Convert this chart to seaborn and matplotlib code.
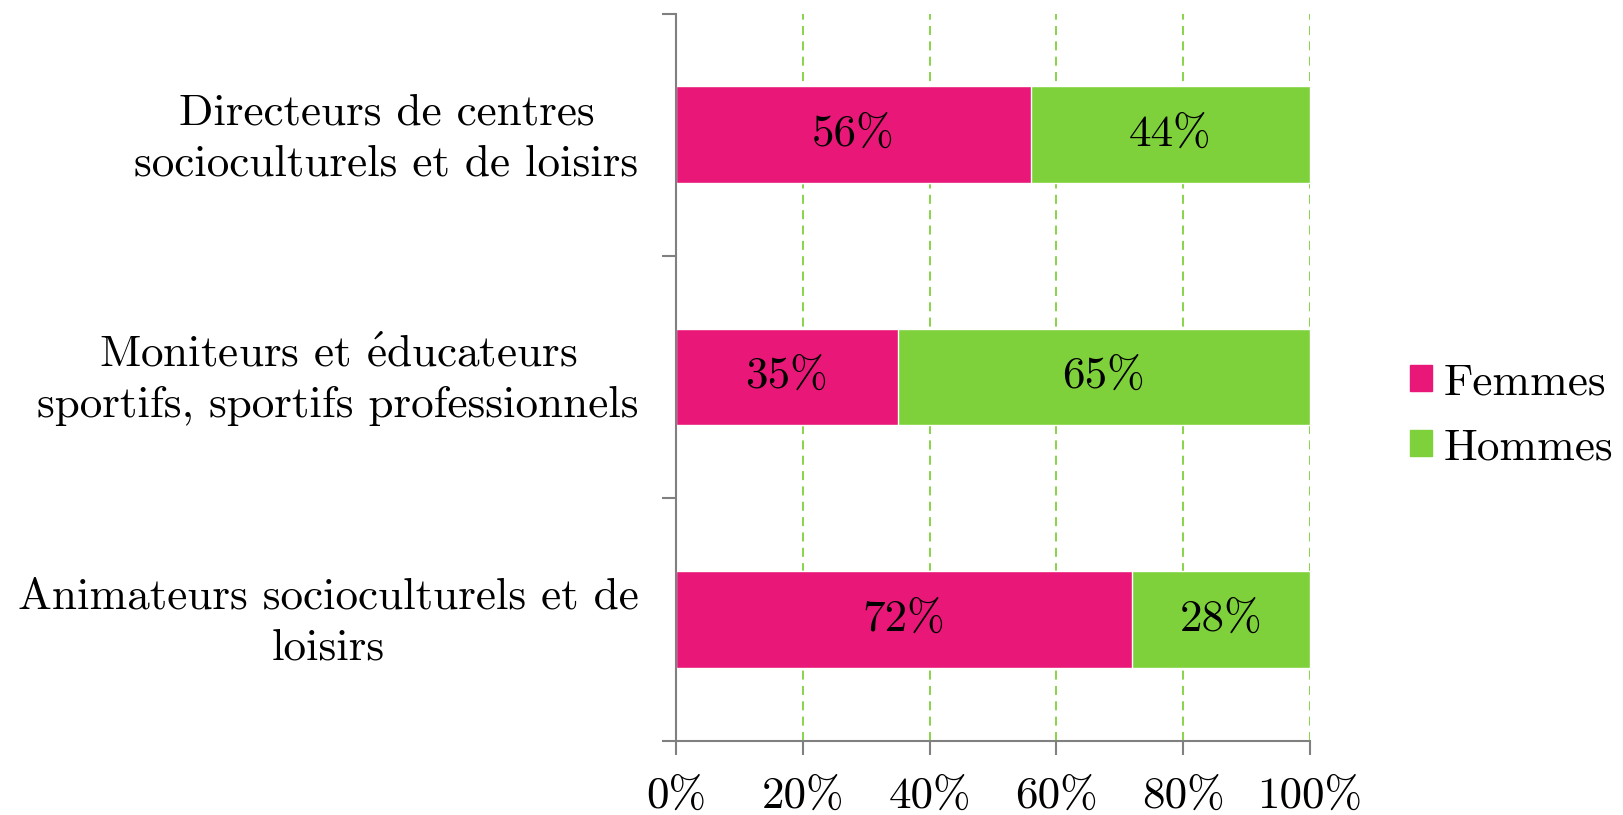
import matplotlib
matplotlib.use("Agg")
import matplotlib.pyplot as plt
import matplotlib.transforms as mtransforms
import seaborn as sns
import pandas as pd
from matplotlib.patches import Patch

# data
categories = [
    "Directeurs de centres\nsocioculturels et de loisirs",
    "Moniteurs et $\\mathrm{\\acute{e}}$ducateurs\nsportifs, sportifs professionnels",
    "Animateurs socioculturels et de\nloisirs",
]
femmes = [56, 35, 72]
hommes = [44, 65, 28]
x_ticks = [0, 20, 40, 60, 80, 100]
x_labels = ["0%", "20%", "40%", "60%", "80%", "100%"]

pink = "#E91778"
green = "#7ED13A"
gray = "#808080"

sns.set_style("white")
plt.rcParams["font.family"] = ["cmr10", "DejaVu Serif"]
plt.rcParams["mathtext.fontset"] = "cm"
plt.rcParams["axes.unicode_minus"] = False
plt.rcParams["text.color"] = "black"
plt.rcParams["xtick.labelcolor"] = "black"
plt.rcParams["ytick.labelcolor"] = "black"

df = pd.DataFrame({"cat": categories, "Femmes": femmes, "Hommes": hommes})
df["total"] = df["Femmes"] + df["Hommes"]

fig = plt.figure(figsize=(16.24, 8.15), dpi=100)
ax = fig.add_axes([0.4163, 0.0914, 0.8066 - 0.4163, 0.9834 - 0.0914])

# stacked: total (green) first, then femmes (pink) on top
sns.barplot(data=df, y="cat", x="total", color=green, orient="h",
            width=0.4, saturation=1, ax=ax)
sns.barplot(data=df, y="cat", x="Femmes", color=pink, orient="h",
            width=0.4, saturation=1, ax=ax)

fs = 32.5
for i, (f, h) in enumerate(zip(femmes, hommes)):
    ax.text(f / 2, i, f"{f}%", ha="center", va="center", fontsize=fs, color="black")
    ax.text(f + h / 2, i, f"{h}%", ha="center", va="center", fontsize=fs, color="black")

ax.set_xlim(0, 100)
ax.set_ylim(2.5, -0.5)
ax.set_xticks(x_ticks)
ax.set_xticklabels(x_labels, fontsize=fs)
ax.set_xlabel("")
ax.set_ylabel("")

# category labels centered on bars, tick marks on band edges
ax.set_yticks(range(len(categories)))
ax.set_yticklabels(categories, fontsize=fs, multialignment="center", linespacing=1.35)
ax.set_yticks([-0.5, 0.5, 1.5, 2.5], minor=True)
ax.tick_params(axis="y", which="major", length=0, pad=27)
ax.tick_params(axis="y", which="minor", length=10, width=1.5, color=gray, left=True)
ax.tick_params(axis="x", length=10, width=1.5, color=gray, bottom=True, pad=16)

# nudge category labels up a little
shift = mtransforms.ScaledTranslation(0, 0.06, fig.dpi_scale_trans)
for lbl in ax.get_yticklabels():
    lbl.set_transform(lbl.get_transform() + shift)

ax.grid(axis="x", color=green, linestyle=(0, (5, 3.5)), linewidth=1.3)
ax.grid(axis="y", visible=False)
ax.set_axisbelow(True)

sns.despine(ax=ax, top=True, right=True)
for s in ["left", "bottom"]:
    ax.spines[s].set_color(gray)
    ax.spines[s].set_linewidth(1.5)

handles = [Patch(color=pink, label="Femmes"), Patch(color=green, label="Hommes")]
fig.legend(handles=handles, loc="center left", bbox_to_anchor=(0.843, 0.49),
           frameon=False, fontsize=fs, handlelength=0.5, handleheight=0.5,
           handletextpad=0.25, labelspacing=0.55, labelcolor="black")

fig.savefig("out.png", dpi=100)
